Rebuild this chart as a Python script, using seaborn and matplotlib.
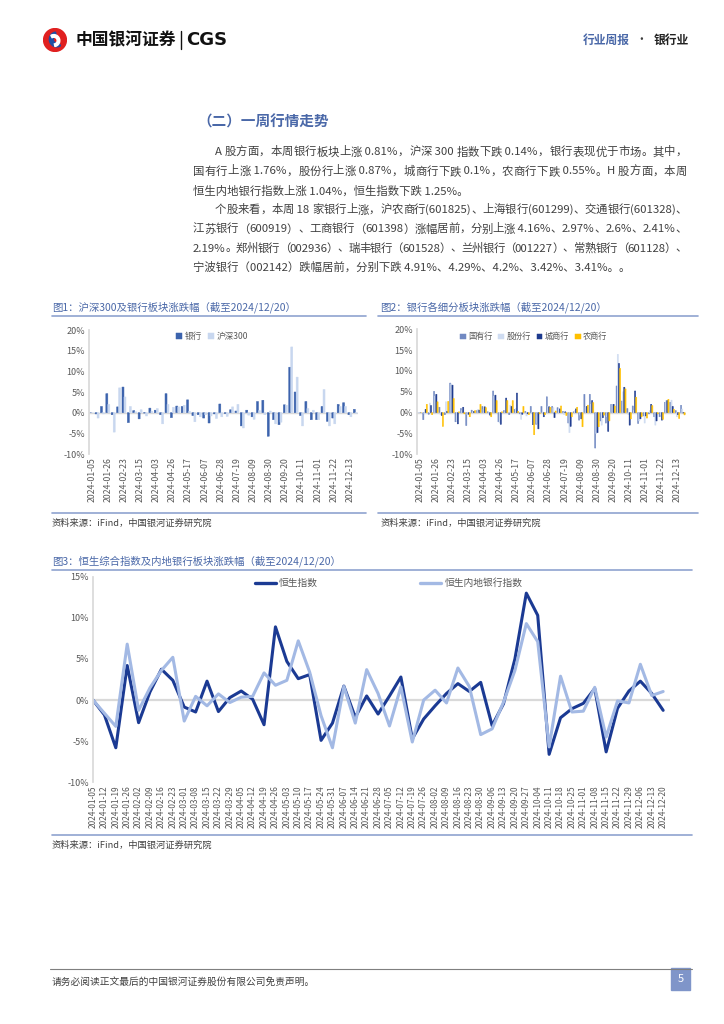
import matplotlib
matplotlib.use("Agg")
import matplotlib.pyplot as plt
import seaborn as sns
import pandas as pd
from matplotlib.lines import Line2D
from matplotlib.patches import Rectangle, Circle, Wedge
from matplotlib.ticker import FuncFormatter

sns.set_theme(style="white")
plt.rcParams['font.family'] = ['Noto Sans CJK SC', 'DejaVu Sans']
plt.rcParams['axes.unicode_minus'] = False

# ---------------- 数据 ----------------
# 图1/图2：周度日期（节假日周合并）
bar_dates = ['2024-01-05', '2024-01-12', '2024-01-19', '2024-01-26', '2024-02-02',
             '2024-02-08', '2024-02-23', '2024-03-01', '2024-03-08', '2024-03-15',
             '2024-03-22', '2024-03-29', '2024-04-03', '2024-04-12', '2024-04-19',
             '2024-04-26', '2024-04-30', '2024-05-10', '2024-05-17', '2024-05-24',
             '2024-05-31', '2024-06-07', '2024-06-14', '2024-06-21', '2024-06-28',
             '2024-07-05', '2024-07-12', '2024-07-19', '2024-07-26', '2024-08-02',
             '2024-08-09', '2024-08-16', '2024-08-23', '2024-08-30', '2024-09-06',
             '2024-09-13', '2024-09-20', '2024-09-27', '2024-09-30', '2024-10-11',
             '2024-10-18', '2024-10-25', '2024-11-01', '2024-11-08', '2024-11-15',
             '2024-11-22', '2024-11-29', '2024-12-06', '2024-12-13', '2024-12-20']

# 图1：银行 / 沪深300 周涨跌幅(%)
bank_chg = [0, -0.3, 1.5, 4.6, -0.5, 1.4, 6.2, -2.4, 0.5, -1.5,
            -0.1, 1.1, 0.6, -0.5, 4.6, -1.2, 1.6, 1.5, 3.1, -0.7,
            -0.5, -1.3, -2.5, -0.3, 2.1, -0.2, 0.7, 0.4, -3.2, 0.6,
            -1.0, 2.7, 3.0, -5.7, -1.7, -2.9, 1.9, 11.0, 5.0, -0.7,
            2.7, -1.7, -1.7, 1.5, -2.1, -1.3, 2.0, 2.4, -0.5, 0.81]
hs300_chg = [0, -1.3, -0.3, 2.0, -4.7, 6.0, 3.8, 1.5, 0.2, 0.7,
             -0.8, 0.3, 1.0, -2.7, 2.0, 1.3, 1.4, 1.8, 0.3, -2.2,
             -1.0, -0.5, -0.8, -1.4, -1.0, -0.9, 1.4, 2.0, -3.7, -0.6,
             -1.6, 0.5, -0.5, 0.4, -2.7, -2.3, 1.8, 15.9, 8.6, -3.2,
             1.0, 0.6, -1.7, 5.6, -3.2, -2.7, 1.5, 1.5, -1.0, -0.14]

# 图2：银行各细分板块周涨跌幅(%)
soe_chg = [0, -1.7, -0.4, 5.1, 1.3, -0.5, 7.1, -2.2, 1.0, -3.1,
           0.6, 0.5, 1.5, 0.2, 5.2, -2.2, 0.5, -0.5, 0.8, -0.3,
           0.3, 1.5, -2.8, 1.5, 3.8, 1.5, 1.2, 0.3, -2.5, 0.2,
           -1.8, 4.4, 4.4, -8.5, -2.0, -2.5, 2.0, 6.4, 2.8, 1.0,
           1.6, -2.6, -0.8, -0.3, -1.0, -1.0, 2.5, 2.5, 0.5, 1.76]
jsb_chg = [0, -0.3, 2.3, 4.0, -0.5, 2.6, 6.9, -2.0, 0.5, -0.5,
           0.2, 0.8, 0.8, -0.3, 4.0, -2.5, 0.2, 1.8, 1.0, -1.6,
           -0.8, -0.2, -2.6, 0.2, 1.5, 1.2, 0.9, -0.5, -4.8, 0.5,
           -0.6, 1.3, 2.0, -5.0, -3.0, -1.0, 2.0, 14.0, 5.0, -0.5,
           0.5, -2.0, -2.5, 0.5, -3.0, -0.5, 2.9, 3.0, -1.0, 0.87]
city_chg = [0, 0.8, 1.7, 4.4, -0.7, 0.3, 6.6, -2.7, 1.3, -0.4,
            0.3, 0.6, 1.4, -0.6, 4.2, -2.8, 3.5, 1.5, 4.7, -0.4,
            -0.3, -2.9, -3.9, -1.0, 1.4, -1.2, 0.9, 0.2, -3.3, 0.9,
            -1.5, 1.5, 2.9, -4.8, -1.2, -4.5, 2.0, 11.8, 6.1, -3.0,
            5.2, -1.5, -0.8, 2.0, -2.0, -1.8, 2.9, 1.5, -0.5, -0.1]
rural_chg = [0, 2.0, -0.5, 2.6, -3.3, 2.7, 3.4, 0.2, -0.3, -1.0,
             0.5, 2.0, 1.2, -1.0, 2.9, 0.2, 2.9, 2.9, 0.3, 1.5,
             -0.5, -5.3, -0.3, -0.5, 1.3, 0.4, 1.6, -0.7, -1.0, 1.3,
             -3.4, 1.8, 2.4, -3.4, -0.6, -2.0, 1.6, 10.6, 5.7, -1.5,
             3.7, -1.0, -1.3, 1.7, -0.3, -1.6, 3.2, 0.8, -1.4, -0.55]

# 图3：恒生指数 / 恒生内地银行指数 周涨跌幅(%)
hk_dates = ['2024-01-05', '2024-01-12', '2024-01-19', '2024-01-26', '2024-02-02',
            '2024-02-09', '2024-02-16', '2024-02-23', '2024-03-01', '2024-03-08',
            '2024-03-15', '2024-03-22', '2024-03-29', '2024-04-05', '2024-04-12',
            '2024-04-19', '2024-04-26', '2024-05-03', '2024-05-10', '2024-05-17',
            '2024-05-24', '2024-05-31', '2024-06-07', '2024-06-14', '2024-06-21',
            '2024-06-28', '2024-07-05', '2024-07-12', '2024-07-19', '2024-07-26',
            '2024-08-02', '2024-08-09', '2024-08-16', '2024-08-23', '2024-08-30',
            '2024-09-06', '2024-09-13', '2024-09-20', '2024-09-27', '2024-10-04',
            '2024-10-11', '2024-10-18', '2024-10-25', '2024-11-01', '2024-11-08',
            '2024-11-15', '2024-11-22', '2024-11-29', '2024-12-06', '2024-12-13',
            '2024-12-20']
hsi_chg = [0, -1.8, -5.8, 4.2, -2.75, 1.0, 3.75, 2.4, -0.85, -1.45,
           2.3, -1.4, 0.3, 1.1, 0.1, -3.0, 8.9, 4.7, 2.6, 3.1,
           -4.9, -2.8, 1.7, -2.1, 0.5, -1.7, 0.5, 2.8, -4.7, -2.3,
           -0.7, 0.8, 2.0, 1.05, 2.15, -3.1, -0.45, 5.0, 13.0, 10.3,
           -6.6, -2.15, -1.05, -0.4, 1.4, -6.3, -1.0, 1.1, 2.3, 0.8,
           -1.25]
hsmb_chg = [0, -1.6, -3.2, 6.8, -1.25, 1.5, 3.6, 5.2, -2.55, 0.45,
            -0.7, 0.75, -0.3, 0.35, 0.45, 3.3, 1.8, 2.4, 7.2, 3.4,
            -1.9, -5.8, 1.65, -2.8, 3.7, 0.8, -3.15, 1.6, -5.1, 0.0,
            1.2, -0.35, 3.9, 1.65, -4.2, -3.5, -0.25, 3.6, 9.3, 7.1,
            -5.7, 2.9, -1.45, -1.35, 1.55, -4.5, -0.1, -0.35, 4.35, 0.55,
            1.04]

para_lines = [
    'A 股方面，本周银行板块上涨 0.81%，沪深 300 指数下跌 0.14%，银行表现优于市场。其中，',
    '国有行上涨 1.76%，股份行上涨 0.87%，城商行下跌 0.1%，农商行下跌 0.55%。H 股方面，本周',
    '恒生内地银行指数上涨 1.04%，恒生指数下跌 1.25%。',
    '个股来看，本周 18 家银行上涨，沪农商行(601825)、上海银行(601299)、交通银行(601328)、',
    '江苏银行（600919）、工商银行（601398）涨幅居前，分别上涨 4.16%、2.97%、2.6%、2.41%、',
    '2.19%。郑州银行（002936）、瑞丰银行（601528）、兰州银行（001227）、常熟银行（601128）、',
    '宁波银行（002142）跌幅居前，分别下跌 4.91%、4.29%、4.2%、3.42%、3.41%。。',
]

# ---------------- 颜色 ----------------
BLUE_TXT = '#4a68a8'
GRAY_TXT = '#404040'
TICK_CLR = '#595959'
AXIS_CLR = '#d9d9d9'
RULE_CLR = '#8fa3cf'

W, H = 724, 1024
fig = plt.figure(figsize=(W / 100, H / 100), dpi=100)
renderer = fig.canvas.get_renderer()


def rect(x0, y0, x1, y1):
    return [x0 / W, 1 - y1 / H, (x1 - x0) / W, (y1 - y0) / H]


def put_text(x, y, s, **kw):
    kw.setdefault('va', 'center')
    return fig.text(x / W, 1 - y / H, s, **kw)


def put_line(x0, x1, y, color, lw=1.0):
    fig.add_artist(Line2D([x0 / W, x1 / W], [1 - y / H, 1 - y / H], color=color, lw=lw))


def text_w(s, **kw):
    # 像素宽度（末尾加“国”避免尾部空格被忽略）
    t = fig.text(0, 0, s + '国', **kw)
    w = t.get_window_extent(renderer).width
    t.remove()
    t = fig.text(0, 0, '国', **kw)
    w0 = t.get_window_extent(renderer).width
    t.remove()
    return w - w0


def split_tokens(s):
    # 汉字逐字拆开，连续的西文/数字作为一段
    toks, run = [], ''
    for ch in s:
        if ord(ch) < 128:
            run += ch
        else:
            if run:
                toks.append(run)
                run = ''
            toks.append(ch)
    if run:
        toks.append(run)
    return toks


def justify(x0, x1, y, s, **kw):
    toks = split_tokens(s)
    offs = [text_w(''.join(toks[:k]), **kw) for k in range(len(toks))]
    total = text_w(s, **kw)
    extra = (x1 - x0 - total) / (len(toks) - 1)
    for k, tk in enumerate(toks):
        put_text(x0 + offs[k] + extra * k, y, tk, **kw)


pct = FuncFormatter(lambda v, p: f'{v:.0f}%')


def style_axes(ax, labels, step, ylim, yticks, fs):
    ax.set_ylim(*ylim)
    ax.set_yticks(yticks)
    ax.yaxis.set_major_formatter(pct)
    pos = list(range(0, len(labels), step))
    ax.set_xticks(pos)
    ax.set_xticklabels([labels[i] for i in pos], rotation=90, fontsize=fs, color=TICK_CLR)
    ax.tick_params(axis='y', labelsize=6.5, labelcolor=TICK_CLR, length=0, pad=3)
    ax.tick_params(axis='x', length=0, pad=2)
    for s in ['top', 'right', 'bottom']:
        ax.spines[s].set_visible(False)
    ax.spines['left'].set_color(AXIS_CLR)
    ax.set_xlabel('')
    ax.set_ylabel('')
    ax.set_facecolor('none')


def thin_bars(ax):
    # 细柱：关闭像素对齐，避免窄柱被吞掉
    for p in ax.patches:
        p.set_snap(False)
        p.set_edgecolor(p.get_facecolor())
        p.set_linewidth(0.35)


# ---------------- 页眉 ----------------
ax_logo = fig.add_axes(rect(41, 28, 69, 52))
ax_logo.set_xlim(-1, 1)
ax_logo.set_ylim(-1, 1)
ax_logo.set_aspect('equal')
ax_logo.axis('off')
ax_logo.add_patch(Circle((0, 0), 0.95, color='#e02020'))
ax_logo.add_patch(Wedge((0.15, 0.05), 0.62, 100, 300, width=0.32, color='#1f4ea3'))
ax_logo.add_patch(Wedge((-0.1, -0.05), 0.5, -80, 120, width=0.22, color='white'))
put_text(76, 40, '中国银河证券', fontsize=12.1, fontweight='bold', color='#111111')
fig.add_artist(Line2D([181 / W, 181 / W], [1 - 31 / H, 1 - 49 / H], color='#111111', lw=1))
put_text(186, 40, 'CGS', fontsize=13, fontweight='bold', color='#111111', family='DejaVu Sans')
put_text(583, 40, '行业周报', fontsize=8.5, color=BLUE_TXT, fontweight='bold')
put_text(641, 40, '·', fontsize=8.5, color=GRAY_TXT, ha='center')
put_text(654, 40, '银行业', fontsize=8.5, color='#222222', fontweight='bold')

# ---------------- 正文 ----------------
put_text(197, 122, '（二）一周行情走势', fontsize=10.5, fontweight='bold', color=BLUE_TXT)
line_y = [152, 171.5, 191, 210, 229, 248.5, 267.5]
indent = [1, 0, 0, 1, 0, 0, 0]
para_end = [0, 0, 1, 0, 0, 0, 1]
body_kw = dict(fontsize=8.2, color=GRAY_TXT)
for s, y, ind, last in zip(para_lines, line_y, indent, para_end):
    x0 = 215 if ind else 193
    if last:
        put_text(x0, y, s, **body_kw)
    else:
        justify(x0, 687, y, s, **body_kw)

# ---------------- 图1 ----------------
put_text(52, 307, '图1：沪深300及银行板块涨跌幅（截至2024/12/20）', fontsize=7.5, color=BLUE_TXT)
put_line(52, 366, 316, RULE_CLR, 1.2)
ax1 = fig.add_axes(rect(89, 330, 358, 454))
n1 = len(bar_dates)
df1 = pd.DataFrame({'日期': bar_dates * 2,
                    '板块': ['银行'] * n1 + ['沪深300'] * n1,
                    '涨跌幅': bank_chg + hs300_chg})
sns.barplot(data=df1, x='日期', y='涨跌幅', hue='板块', palette=['#3c63ad', '#c8d7ef'],
            saturation=1, width=0.74, errorbar=None, ax=ax1)
thin_bars(ax1)
ax1.axhline(0, color=AXIS_CLR, lw=1, zorder=0)
ax1.set_xlim(-0.5, n1 - 0.5)
style_axes(ax1, bar_dates, 3, (-10, 20), range(-10, 21, 5), 6.3)
ax1.legend(loc='center left', bbox_to_anchor=(0.325, 0.945), ncol=2, frameon=False,
           fontsize=6.2, handlelength=0.7, handleheight=0.7, handletextpad=0.3,
           columnspacing=0.7, borderaxespad=0, borderpad=0, labelcolor=TICK_CLR)
put_line(52, 366, 512.5, RULE_CLR, 1.2)
put_text(52, 523, '资料来源：iFind，中国银河证券研究院', fontsize=6.7, color=GRAY_TXT, style='italic')

# ---------------- 图2 ----------------
put_text(380, 307, '图2：银行各细分板块涨跌幅（截至2024/12/20）', fontsize=7.5, color=BLUE_TXT)
put_line(378, 698, 316, RULE_CLR, 1.2)
ax2 = fig.add_axes(rect(417, 329.3, 685.5, 454.3))
groups = ['国有行', '股份行', '城商行', '农商行']
df2 = pd.DataFrame({'日期': bar_dates * 4,
                    '板块': [g for g in groups for _ in range(n1)],
                    '涨跌幅': soe_chg + jsb_chg + city_chg + rural_chg})
sns.barplot(data=df2, x='日期', y='涨跌幅', hue='板块',
            palette=['#7189c2', '#cfdcf1', '#1d3a8e', '#ffc000'],
            saturation=1, width=0.86, errorbar=None, ax=ax2)
thin_bars(ax2)
ax2.axhline(0, color=AXIS_CLR, lw=1, zorder=0)
ax2.set_xlim(-0.5, n1 - 0.5)
style_axes(ax2, bar_dates, 3, (-10, 20), range(-10, 21, 5), 6.3)
ax2.legend(loc='center left', bbox_to_anchor=(0.16, 0.94), ncol=4, frameon=False,
           fontsize=5.9, handlelength=0.7, handleheight=0.7, handletextpad=0.3,
           columnspacing=0.7, borderaxespad=0, borderpad=0, labelcolor=TICK_CLR)
put_line(378, 698, 512.5, RULE_CLR, 1.2)
put_text(381, 523, '资料来源：iFind，中国银河证券研究院', fontsize=6.7, color=GRAY_TXT, style='italic')

# ---------------- 图3 ----------------
put_text(52, 561, '图3：恒生综合指数及内地银行板块涨跌幅（截至2024/12/20）', fontsize=7.5, color=BLUE_TXT)
put_line(52, 692, 570, RULE_CLR, 1.2)
ax3 = fig.add_axes(rect(93, 576.7, 670, 782.3))
n3 = len(hk_dates)
df3 = pd.DataFrame({'序号': list(range(n3)) * 2,
                    '指数': ['恒生指数'] * n3 + ['恒生内地银行指数'] * n3,
                    '涨跌幅': hsi_chg + hsmb_chg})
line_pal = {'恒生指数': '#1b3a93', '恒生内地银行指数': '#a3b9e4'}
ax3.axhline(0, color=AXIS_CLR, lw=1.6, zorder=0)
sns.lineplot(data=df3, x='序号', y='涨跌幅', hue='指数', palette=line_pal,
             linewidth=2.2, legend=False, ax=ax3)
ax3.set_xlim(0, n3 - 1 + 0.6)
style_axes(ax3, hk_dates, 1, (-10, 15), range(-10, 16, 5), 6.0)
handles = [Line2D([0], [0], color=line_pal[k], lw=2.4) for k in line_pal]
ax3.legend(handles, list(line_pal), loc='center left', bbox_to_anchor=(0.28, 0.968), ncol=2,
           frameon=False, fontsize=7, handlelength=2.2, handletextpad=0.3,
           columnspacing=10.5, borderaxespad=0, borderpad=0, labelcolor=TICK_CLR)
put_line(52, 692, 835, RULE_CLR, 1.2)
put_text(52, 845, '资料来源：iFind，中国银河证券研究院', fontsize=6.7, color=GRAY_TXT, style='italic')

# ---------------- 页脚 ----------------
put_line(50, 692, 969, '#7f7f7f', 0.8)
put_text(52, 982, '请务必阅读正文最后的中国银河证券股份有限公司免责声明。', fontsize=7.0, color=GRAY_TXT)
fig.add_artist(Rectangle((671 / W, 1 - 990 / H), 19 / W, 22 / H, transform=fig.transFigure,
                         color='#7f95c9'))
put_text(680.5, 979, '5', fontsize=8, color='white', ha='center')

fig.savefig('out.png', dpi=100)
